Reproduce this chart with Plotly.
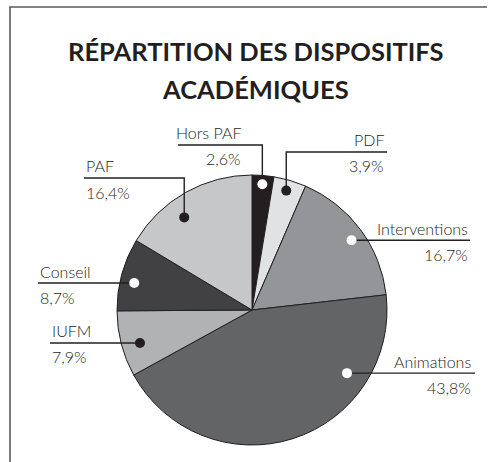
import plotly.graph_objects as go
import math

# ---- data ----
labels = ["Hors PAF", "PDF", "Interventions", "Animations", "IUFM", "Conseil", "PAF"]
values = [2.6, 3.9, 16.7, 43.8, 7.9, 8.7, 16.4]
value_text = ["2,6%", "3,9%", "16,7%", "43,8%", "7,9%", "8,7%", "16,4%"]
title_lines = ["RÉPARTITION DES DISPOSITIFS", "ACADÉMIQUES"]

# ---- style ----
colors = ["#231f20", "#e1e2e3", "#939598", "#636466", "#b1b2b4", "#414042", "#c6c7c9"]
dot_colors = ["white", "#231f20", "white", "white", "#231f20", "white", "#231f20"]
W, H = 491, 462
CX, CY, R = 252, 310, 135
INK = "#231f20"
FONT = "Lato"

# leader placement (pixel layout): dot angle (deg clockwise from top), dot radius fraction,
# line y, line end x, text anchor x, text side
place = [
    dict(ang=4.7, rf=0.935, ly=145, lx=178, tx=243, side="right"),
    dict(ang=16.0, rf=0.92, ly=152, lx=387, tx=386, side="right"),
    dict(ang=55.0, rf=0.90, ly=None, lx=470, tx=470, side="right"),
    dict(ang=123.6, rf=0.845, ly=None, lx=475, tx=473, side="right"),
    dict(ang=253.6, rf=0.865, ly=None, lx=50, tx=50, side="left"),
    dict(ang=282.9, rf=0.895, ly=None, lx=38, tx=38, side="left"),
    dict(ang=323.8, rf=0.85, ly=178, lx=84, tx=84, side="left"),
]

def px(x, y):
    return x / W, 1 - y / H

fig = go.Figure()
fig.add_trace(go.Pie(
    labels=labels, values=values, sort=False, direction="clockwise", rotation=0,
    marker=dict(colors=colors, line=dict(color=INK, width=1)),
    textinfo="none", hoverinfo="skip", showlegend=False,
    domain=dict(x=[(CX - R) / W, (CX + R) / W], y=[1 - (CY + R) / H, 1 - (CY - R) / H]),
))

shapes = []
annotations = []

# frame
fx0, fy0 = px(10, H + 2)
fx1, fy1 = px(10, 7)
fx2, fy2 = px(487, 7)
shapes.append(dict(type="path", xref="paper", yref="paper",
                   path=f"M {fx0} {fy0} L {fx1} {fy1} L {fx2} {fy2}",
                   line=dict(color="#58595b", width=1.6)))

# title
for i, t in enumerate(title_lines):
    x, y = px(256, 51 + i * 38)
    annotations.append(dict(text=f"<b>{t}</b>", x=x, y=y, xref="paper", yref="paper",
                            xanchor="center", yanchor="middle", showarrow=False,
                            font=dict(family=FONT, size=25.5, color=INK)))

for i, p in enumerate(place):
    a = math.radians(p["ang"])
    dx = CX + p["rf"] * R * math.sin(a)
    dy = CY - p["rf"] * R * math.cos(a)
    ly = p["ly"] if p["ly"] is not None else dy
    # leader line
    if p["ly"] is not None:
        pts = [(dx, dy), (dx, ly), (p["lx"], ly)]
    else:
        pts = [(dx, dy), (p["lx"], ly)]
    path = " ".join(("M" if k == 0 else "L") + f" {px(*q)[0]} {px(*q)[1]}" for k, q in enumerate(pts))
    shapes.append(dict(type="path", xref="paper", yref="paper", path=path,
                       line=dict(color=INK, width=1.4), layer="above"))
    # dot
    r = 5
    x0, y0 = px(dx - r, dy + r)
    x1, y1 = px(dx + r, dy - r)
    shapes.append(dict(type="circle", xref="paper", yref="paper", x0=x0, y0=y0, x1=x1, y1=y1,
                       fillcolor=dot_colors[i], line=dict(width=0), layer="above"))
    # texts
    anchor = "right" if p["side"] == "right" else "left"
    for txt, off in ((labels[i], -12), (value_text[i], 14)):
        tx, ty = px(p["tx"], ly + off)
        annotations.append(dict(text=txt, x=tx, y=ty, xref="paper", yref="paper",
                                xanchor=anchor, yanchor="middle", showarrow=False,
                                font=dict(family=FONT, size=16, color=INK, weight=300)))

fig.update_layout(width=W, height=H, margin=dict(l=0, r=0, t=0, b=0),
                  paper_bgcolor="white", plot_bgcolor="white",
                  shapes=shapes, annotations=annotations, showlegend=False)
fig.write_html("out.html", config={"displayModeBar": False},
               post_script="document.body.style.margin='0';")
